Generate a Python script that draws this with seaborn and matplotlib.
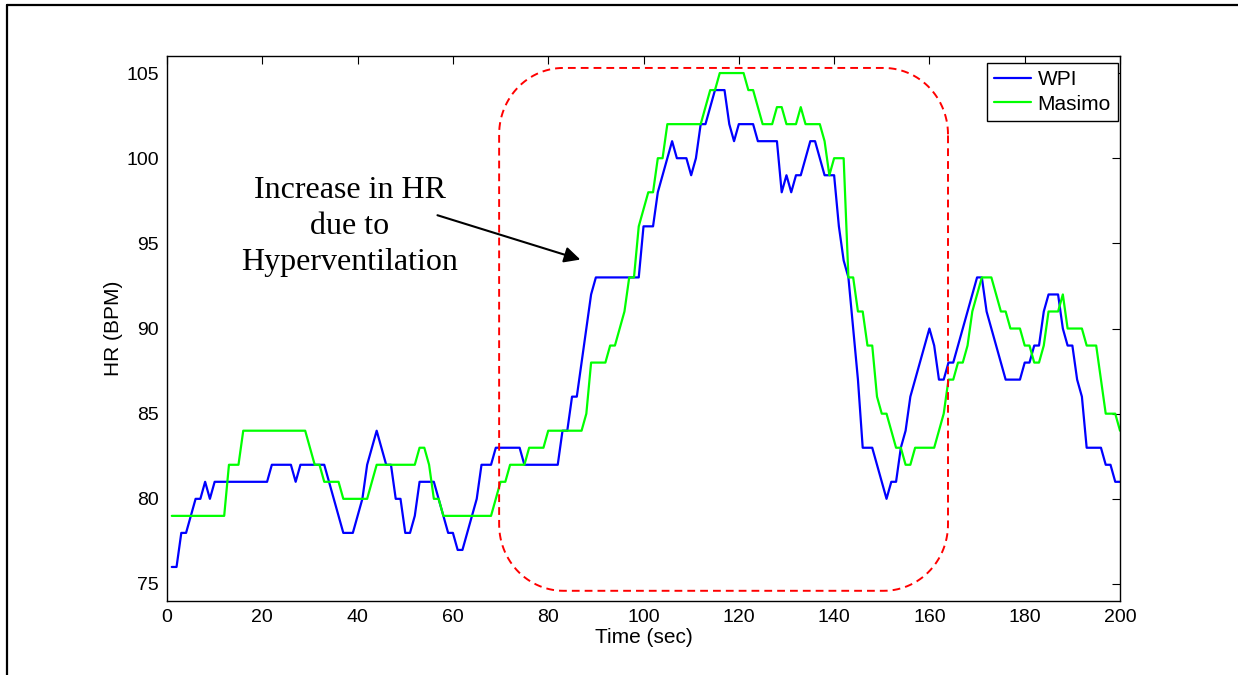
import numpy as np
import pandas as pd
import matplotlib
matplotlib.use("Agg")
import matplotlib.pyplot as plt
from matplotlib.lines import Line2D
import seaborn as sns

# Heart rate readings, one per second (t = 1..200)
time_sec = list(range(1, 201))

wpi_hr = [
    76, 76, 78, 78, 79, 80, 80, 81, 80, 81,
    81, 81, 81, 81, 81, 81, 81, 81, 81, 81,
    81, 82, 82, 82, 82, 82, 81, 82, 82, 82,
    82, 82, 82, 81, 80, 79, 78, 78, 78, 79,
    80, 82, 83, 84, 83, 82, 82, 80, 80, 78,
    78, 79, 81, 81, 81, 81, 80, 79, 78, 78,
    77, 77, 78, 79, 80, 82, 82, 82, 83, 83,
    83, 83, 83, 83, 82, 82, 82, 82, 82, 82,
    82, 82, 84, 84, 86, 86, 88, 90, 92, 93,
    93, 93, 93, 93, 93, 93, 93, 93, 93, 96,
    96, 96, 98, 99, 100, 101, 100, 100, 100, 99,
    100, 102, 102, 103, 104, 104, 104, 102, 101, 102,
    102, 102, 102, 101, 101, 101, 101, 101, 98, 99,
    98, 99, 99, 100, 101, 101, 100, 99, 99, 99,
    96, 94, 93, 90, 87, 83, 83, 83, 82, 81,
    80, 81, 81, 83, 84, 86, 87, 88, 89, 90,
    89, 87, 87, 88, 88, 89, 90, 91, 92, 93,
    93, 91, 90, 89, 88, 87, 87, 87, 87, 88,
    88, 89, 89, 91, 92, 92, 92, 90, 89, 89,
    87, 86, 83, 83, 83, 83, 82, 82, 81, 81,
]

masimo_hr = [
    79, 79, 79, 79, 79, 79, 79, 79, 79, 79,
    79, 79, 82, 82, 82, 84, 84, 84, 84, 84,
    84, 84, 84, 84, 84, 84, 84, 84, 84, 83,
    82, 82, 81, 81, 81, 81, 80, 80, 80, 80,
    80, 80, 81, 82, 82, 82, 82, 82, 82, 82,
    82, 82, 83, 83, 82, 80, 80, 79, 79, 79,
    79, 79, 79, 79, 79, 79, 79, 79, 80, 81,
    81, 82, 82, 82, 82, 83, 83, 83, 83, 84,
    84, 84, 84, 84, 84, 84, 84, 85, 88, 88,
    88, 88, 89, 89, 90, 91, 93, 93, 96, 97,
    98, 98, 100, 100, 102, 102, 102, 102, 102, 102,
    102, 102, 103, 104, 104, 105, 105, 105, 105, 105,
    105, 104, 104, 103, 102, 102, 102, 103, 103, 102,
    102, 102, 103, 102, 102, 102, 102, 101, 99, 100,
    100, 100, 93, 93, 91, 91, 89, 89, 86, 85,
    85, 84, 83, 83, 82, 82, 83, 83, 83, 83,
    83, 84, 85, 87, 87, 88, 88, 89, 91, 92,
    93, 93, 93, 92, 91, 91, 90, 90, 90, 89,
    89, 88, 88, 89, 91, 91, 91, 92, 90, 90,
    90, 90, 89, 89, 89, 87, 85, 85, 85, 84,
]

series_names = ["WPI", "Masimo"]
x_ticks = [0, 20, 40, 60, 80, 100, 120, 140, 160, 180, 200]
y_ticks = [75, 80, 85, 90, 95, 100, 105]

# highlighted region (data units) and its corner radii
region_t = (69.7, 163.9)
region_hr = (74.6, 105.3)
corner_t, corner_hr = 13.5, 3.9

note_text = "Increase in HR\ndue to\nHyperventilation"

df = pd.DataFrame({
    "Time": time_sec * 2,
    "HR": wpi_hr + masimo_hr,
    "Device": ["WPI"] * len(wpi_hr) + ["Masimo"] * len(masimo_hr),
})

sns.set_style("white")
plt.rcParams["font.family"] = ["Liberation Sans", "DejaVu Sans"]
plt.rcParams["text.color"] = "black"
plt.rcParams["axes.labelcolor"] = "black"

fig = plt.figure(figsize=(12.38, 6.75), dpi=100)
ax = fig.add_axes([0.1349, 0.1096, 0.7698, 0.8074])

sns.lineplot(data=df, x="Time", y="HR", hue="Device", hue_order=series_names,
             palette={"WPI": "#0000ff", "Masimo": "#00ff00"},
             linewidth=1.6, ax=ax)


def rounded_rect(x0, x1, y0, y1, rx, ry, n=30):
    th = np.linspace(0, np.pi / 2, n)
    pts = []
    # corners: top-right, top-left, bottom-left, bottom-right
    for cx, cy, a0 in [(x1 - rx, y1 - ry, 0), (x0 + rx, y1 - ry, np.pi / 2),
                       (x0 + rx, y0 + ry, np.pi), (x1 - rx, y0 + ry, 1.5 * np.pi)]:
        pts.append(np.column_stack([cx + rx * np.cos(th + a0), cy + ry * np.sin(th + a0)]))
    pts = np.vstack(pts)
    return np.vstack([pts, pts[:1]])


box = rounded_rect(region_t[0], region_t[1], region_hr[0], region_hr[1], corner_t, corner_hr)
ax.plot(box[:, 0], box[:, 1], color="red", linestyle=(0, (4, 2.6)), linewidth=1.4)

ax.text(38.4, 96.0, note_text, ha="center", va="center", fontsize=23, color="black",
        family=["Liberation Serif", "DejaVu Serif"], linespacing=1.32)
ax.annotate("", xy=(87.3, 94.0), xytext=(56.2, 96.7),
            arrowprops=dict(arrowstyle="-|>", color="black", lw=1.5, mutation_scale=24))

ax.set_xlim(0, 200)
ax.set_ylim(74, 106)
ax.set_xticks(x_ticks)
ax.set_yticks(y_ticks)
ax.tick_params(direction="in", length=6, width=0.8, top=True, right=True,
               labelsize=14, pad=6, colors="black")
ax.set_xlabel("Time (sec)", fontsize=15, labelpad=1)
ax.set_ylabel("HR (BPM)", fontsize=15, labelpad=2)
for s in ax.spines.values():
    s.set_color("black")
    s.set_linewidth(1.0)
    s.set_visible(True)

leg = ax.legend(loc="upper right", bbox_to_anchor=(0.998, 0.987), fontsize=15,
                frameon=True, fancybox=False, framealpha=1, edgecolor="black",
                handlelength=1.8, handletextpad=0.3, borderpad=0.35,
                labelspacing=0.25, borderaxespad=0)
leg.get_frame().set_linewidth(1.0)

# page frame around the figure
fig.add_artist(Line2D([0.0057, 0.0057], [0, 0.9926], transform=fig.transFigure,
                      color="black", lw=1.6))
fig.add_artist(Line2D([0.0057, 1.0], [0.9926, 0.9926], transform=fig.transFigure,
                      color="black", lw=1.6))

fig.savefig("out.png", dpi=100)
